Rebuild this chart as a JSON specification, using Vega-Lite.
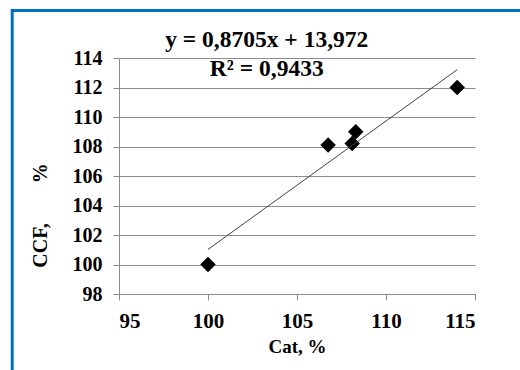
{
  "$schema": "https://vega.github.io/schema/vega-lite/v6.json",
  "autosize": {"type": "none"},
  "width": 356,
  "height": 236,
  "padding": {"left": 119, "top": 58, "right": 45, "bottom": 76},
  "background": "white",
  "config": {
    "view": {"stroke": null},
    "font": "Liberation Serif",
    "axis": {
      "labelFont": "Liberation Serif",
      "titleFont": "Liberation Serif",
      "labelFontWeight": "bold",
      "titleFontWeight": "bold",
      "labelFontSize": 20,
      "labelColor": "black",
      "titleColor": "black",
      "domainColor": "#8c8c8c",
      "tickColor": "#8c8c8c",
      "gridColor": "#8c8c8c",
      "tickSize": 6,
      "labelOverlap": false
    }
  },
  "datasets": {
    "pts": [
      {"cat": 100.0, "ccf": 100.0},
      {"cat": 106.75, "ccf": 108.1},
      {"cat": 108.1, "ccf": 108.2},
      {"cat": 108.3, "ccf": 109.0},
      {"cat": 114.0, "ccf": 112.0}
    ],
    "trend": [
      {"cat": 100.0, "ccf": 101.022},
      {"cat": 114.0, "ccf": 113.209}
    ],
    "labels": [
      {"cat": 103.3, "ccf": 115.2, "txt": "y = 0,8705x + 13,972"},
      {"cat": 103.3, "ccf": 113.25, "txt": "R² = 0,9433"}
    ],
    "frameLeft": [{"cat": 89.0, "ccf": 117.2, "ccf_end": 92.0}],
    "frameTop": [{"cat": 88.92, "cat_end": 118.0, "ccf": 117.22}]
  },
  "encoding": {
    "x": {
      "field": "cat", "type": "quantitative",
      "scale": {"domain": [95, 115], "nice": false, "zero": false},
      "axis": {
        "values": [95, 100, 105, 110, 115],
        "grid": false,
        "title": "Cat, %",
        "labelFont": "Times New Roman, Liberation Serif, serif",
        "labelFontWeight": 700,
        "labelFontSize": 21,
        "titleFontSize": 19,
        "labelPadding": 10,
        "titleBaseline": "middle",
        "titleY": 52
      }
    },
    "y": {
      "field": "ccf", "type": "quantitative",
      "scale": {"domain": [98, 114], "nice": false, "zero": false},
      "axis": {
        "values": [98, 100, 102, 104, 106, 108, 110, 112, 114],
        "grid": true,
        "title": "CCF,\u00a0\u00a0\u00a0\u00a0\u00a0\u00a0\u00a0 %",
        "labelFont": "Times New Roman, Liberation Serif, serif",
        "labelFontWeight": 700,
        "labelFontSize": 20,
        "titleFontSize": 20,
        "labelPadding": 11,
        "titleAngle": -90,
        "titleAlign": "center",
        "titleBaseline": "middle",
        "titleX": -79,
        "titleY": 157
      }
    }
  },
  "layer": [
    {
      "data": {"name": "pts"},
      "mark": {"type": "point", "shape": "diamond", "filled": true, "color": "black", "size": 240, "opacity": 1}
    },
    {
      "data": {"name": "trend"},
      "mark": {"type": "line", "color": "#404040", "strokeWidth": 1}
    },
    {
      "data": {"name": "labels"},
      "mark": {"type": "text", "font": "Liberation Serif", "fontWeight": "bold", "fontSize": 23.5, "align": "center", "baseline": "middle", "color": "black", "clip": false},
      "encoding": {
        "text": {"field": "txt"}
      }
    },
    {
      "data": {"name": "frameLeft"},
      "mark": {"type": "rule", "color": "#0070C0", "strokeWidth": 3, "clip": false},
      "encoding": {
        "y2": {"field": "ccf_end"}
      }
    },
    {
      "data": {"name": "frameTop"},
      "mark": {"type": "rule", "color": "#0070C0", "strokeWidth": 3, "clip": false},
      "encoding": {
        "x2": {"field": "cat_end"}
      }
    }
  ]
}
